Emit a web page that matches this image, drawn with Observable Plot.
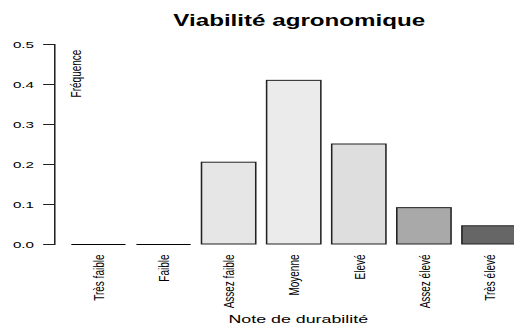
<!DOCTYPE html>
<html>
<head>
<meta charset="utf-8">
<script src="https://cdn.jsdelivr.net/npm/d3@7"></script>
<script src="https://cdn.jsdelivr.net/npm/@observablehq/plot@0.6"></script>
<style>
  html, body { margin: 0; padding: 0; background: #fff; overflow: hidden; }
  #chart { width: 514px; height: 325px; overflow: hidden; }
</style>
</head>
<body>
<div id="chart"></div>
<script>
const categories = ["Très faible", "Faible", "Assez faible", "Moyenne", "Elevé", "Assez élevé", "Très élevé"];
const frequencies = [0, 0, 0.2045, 0.4091, 0.25, 0.0909, 0.0455];
const yTicks = [0, 0.1, 0.2, 0.3, 0.4, 0.5];
const barColors = ["#e6e6e6", "#e6e6e6", "#e6e6e6", "#ebebeb", "#dedede", "#a9a9a9", "#666666"];
const titleText = "Viabilité agronomique";
const xLabel = "Note de durabilité";
const yLabel = "Fréquence";

const data = categories.map((c, i) => ({cat: c, value: frequencies[i]}));

const S = 1.55;              // horizontal stretch of the original image
const W = 514 / S;           // internal width
const H = 325;
const left = 54 / S;
const barStart = 71.5 / S;
const step = 66.3 / S;
const bw = 56 / S;
const pad = 1 - bw / step;
const rangeEnd = barStart + step * (categories.length - pad);

const font = "'Liberation Sans', Arial, sans-serif";

const chart = Plot.plot({
  width: W,
  height: H,
  marginLeft: left,
  marginRight: 0,
  marginTop: 44,
  marginBottom: H - 244,
  style: {fontFamily: font, background: "#fff", color: "#000"},
  x: {domain: categories, range: [barStart, rangeEnd], paddingInner: pad, paddingOuter: 0, align: 0},
  y: {domain: [0, 0.5]},
  color: {domain: categories, range: barColors},
  marks: [
    Plot.frame({anchor: "left", stroke: "#222"}),
    Plot.barY(data, {x: "cat", y: "value", fill: "cat", stroke: "#222", strokeWidth: 1}),
    Plot.tickY(data.filter(d => d.value === 0), {x: "cat", y: "value", stroke: "#000", strokeWidth: 1.2}),
    Plot.axisY({ticks: yTicks, tickFormat: d3.format(".1f"), tickSize: 7, tickPadding: 6.4, fontSize: 9.8, label: null, stroke: "#222"}),
    Plot.axisX({tickRotate: -90, tickSize: 0, tickPadding: 10, fontSize: 10, label: null}),
    Plot.text([yLabel], {frameAnchor: "top-left", textAnchor: "middle", lineAnchor: "middle", dx: 75 / S - left, dy: 73 - 44, rotate: -90, fontSize: 10}),
    Plot.text([titleText], {frameAnchor: "top-left", textAnchor: "middle", lineAnchor: "middle", dx: 298.5 / S - left, dy: 21 - 44, fontSize: 15.6, fontWeight: "bold"}),
    Plot.text([xLabel], {frameAnchor: "top-left", textAnchor: "middle", lineAnchor: "middle", dx: 297.5 / S - left, dy: 319 - 44, fontSize: 11.5})
  ]
});

chart.setAttribute("width", 514);
chart.setAttribute("height", H);
chart.setAttribute("viewBox", `0 0 ${W} ${H}`);
chart.setAttribute("preserveAspectRatio", "none");
chart.style.width = "514px";
chart.style.height = H + "px";
chart.style.maxWidth = "none";
chart.style.overflow = "hidden";
document.getElementById("chart").appendChild(chart);
</script>
</body>
</html>
